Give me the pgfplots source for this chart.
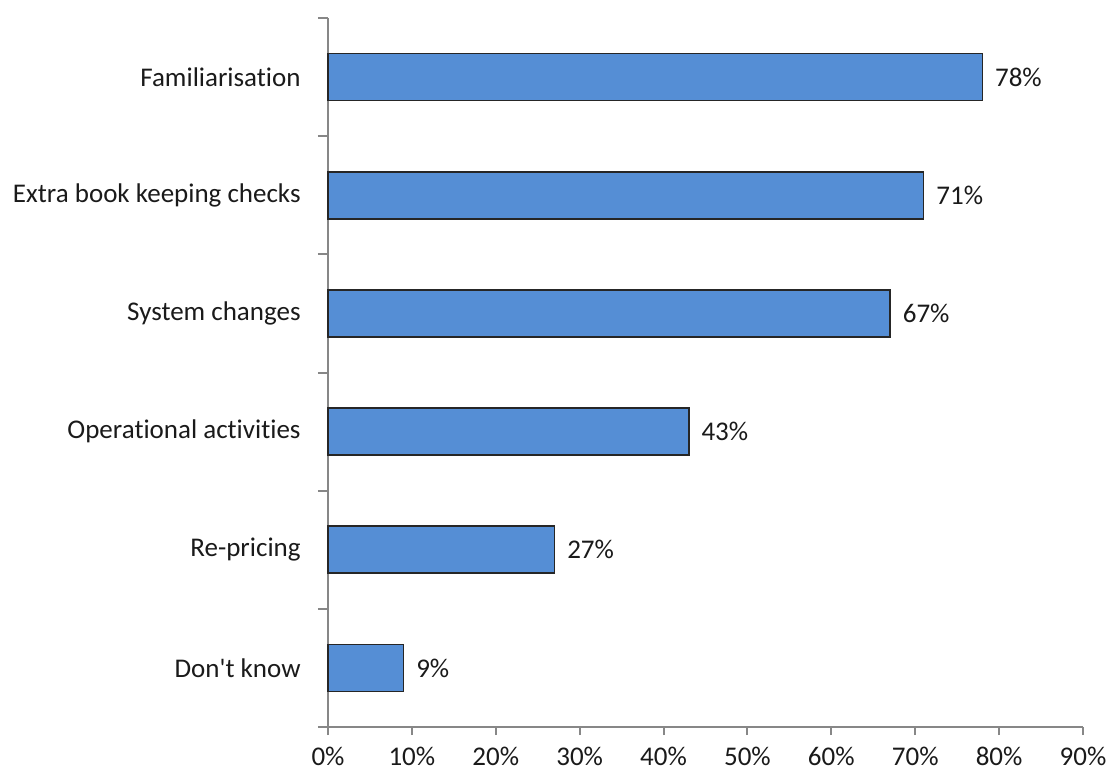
\documentclass[border=0pt]{standalone}
\usepackage{pgfplots}
\pgfplotsset{compat=1.18}
\usepackage{fontspec}
\setmainfont{Carlito}[Ligatures={TeXOff,NoCommon}]
\definecolor{barblue}{HTML}{558ED5}
\definecolor{axgray}{HTML}{878787}
\definecolor{txt}{HTML}{1A1A1A}
\begin{document}
\begin{tikzpicture}
\begin{axis}[
  name=ax,
  scale only axis,
  width=377.5pt, height=354.5pt,
  xbar, bar width=23.5pt,
  xmin=0, xmax=90,
  ymin=-0.5, ymax=5.5,
  xtick={0,10,...,90},
  xticklabel={\pgfmathprintnumber{\tick}\%},
  /pgf/number format/assume math mode=true,
  ytick={0,1,2,3,4,5},
  yticklabels={Don't know,Re-pricing,Operational activities,System changes,Extra book keeping checks,Familiarisation},
  extra y ticks={-0.5,0.5,1.5,2.5,3.5,4.5,5.5},
  extra y tick labels={},
  extra y tick style={major tick length=5pt, ytick style={draw=axgray, line width=1pt}},
  axis x line*=bottom,
  axis y line*=left,
  axis line style={axgray, line width=1pt},
  tick align=outside,
  major tick length=4pt,
  ytick style={draw=none},
  xtick style={axgray, line width=1pt},
  tick label style={font=\fontsize{13.5}{16}\selectfont, text=txt},
  yticklabel style={inner sep=0pt},
  yticklabel shift=9.5pt,
  xticklabel style={inner sep=0pt},
  xticklabel shift=6pt,
  nodes near coords={\pgfmathprintnumber{\pgfplotspointmeta}\%},
  every node near coord/.append style={font=\fontsize{13.5}{16}\selectfont, text=txt, inner sep=0pt, anchor=west, xshift=6pt},
  clip=false,
]
\addplot[fill=barblue, draw=black!85, line width=0.8pt] coordinates {
  (9,0) (27,1) (43,2) (67,3) (71,4) (78,5)
};
\end{axis}
\pgfresetboundingbox
\path[use as bounding box] ([shift={(-164pt,-22pt)}]ax.south west) rectangle ([shift={(390pt,363.5pt)}]ax.south west);
\end{tikzpicture}
\end{document}
